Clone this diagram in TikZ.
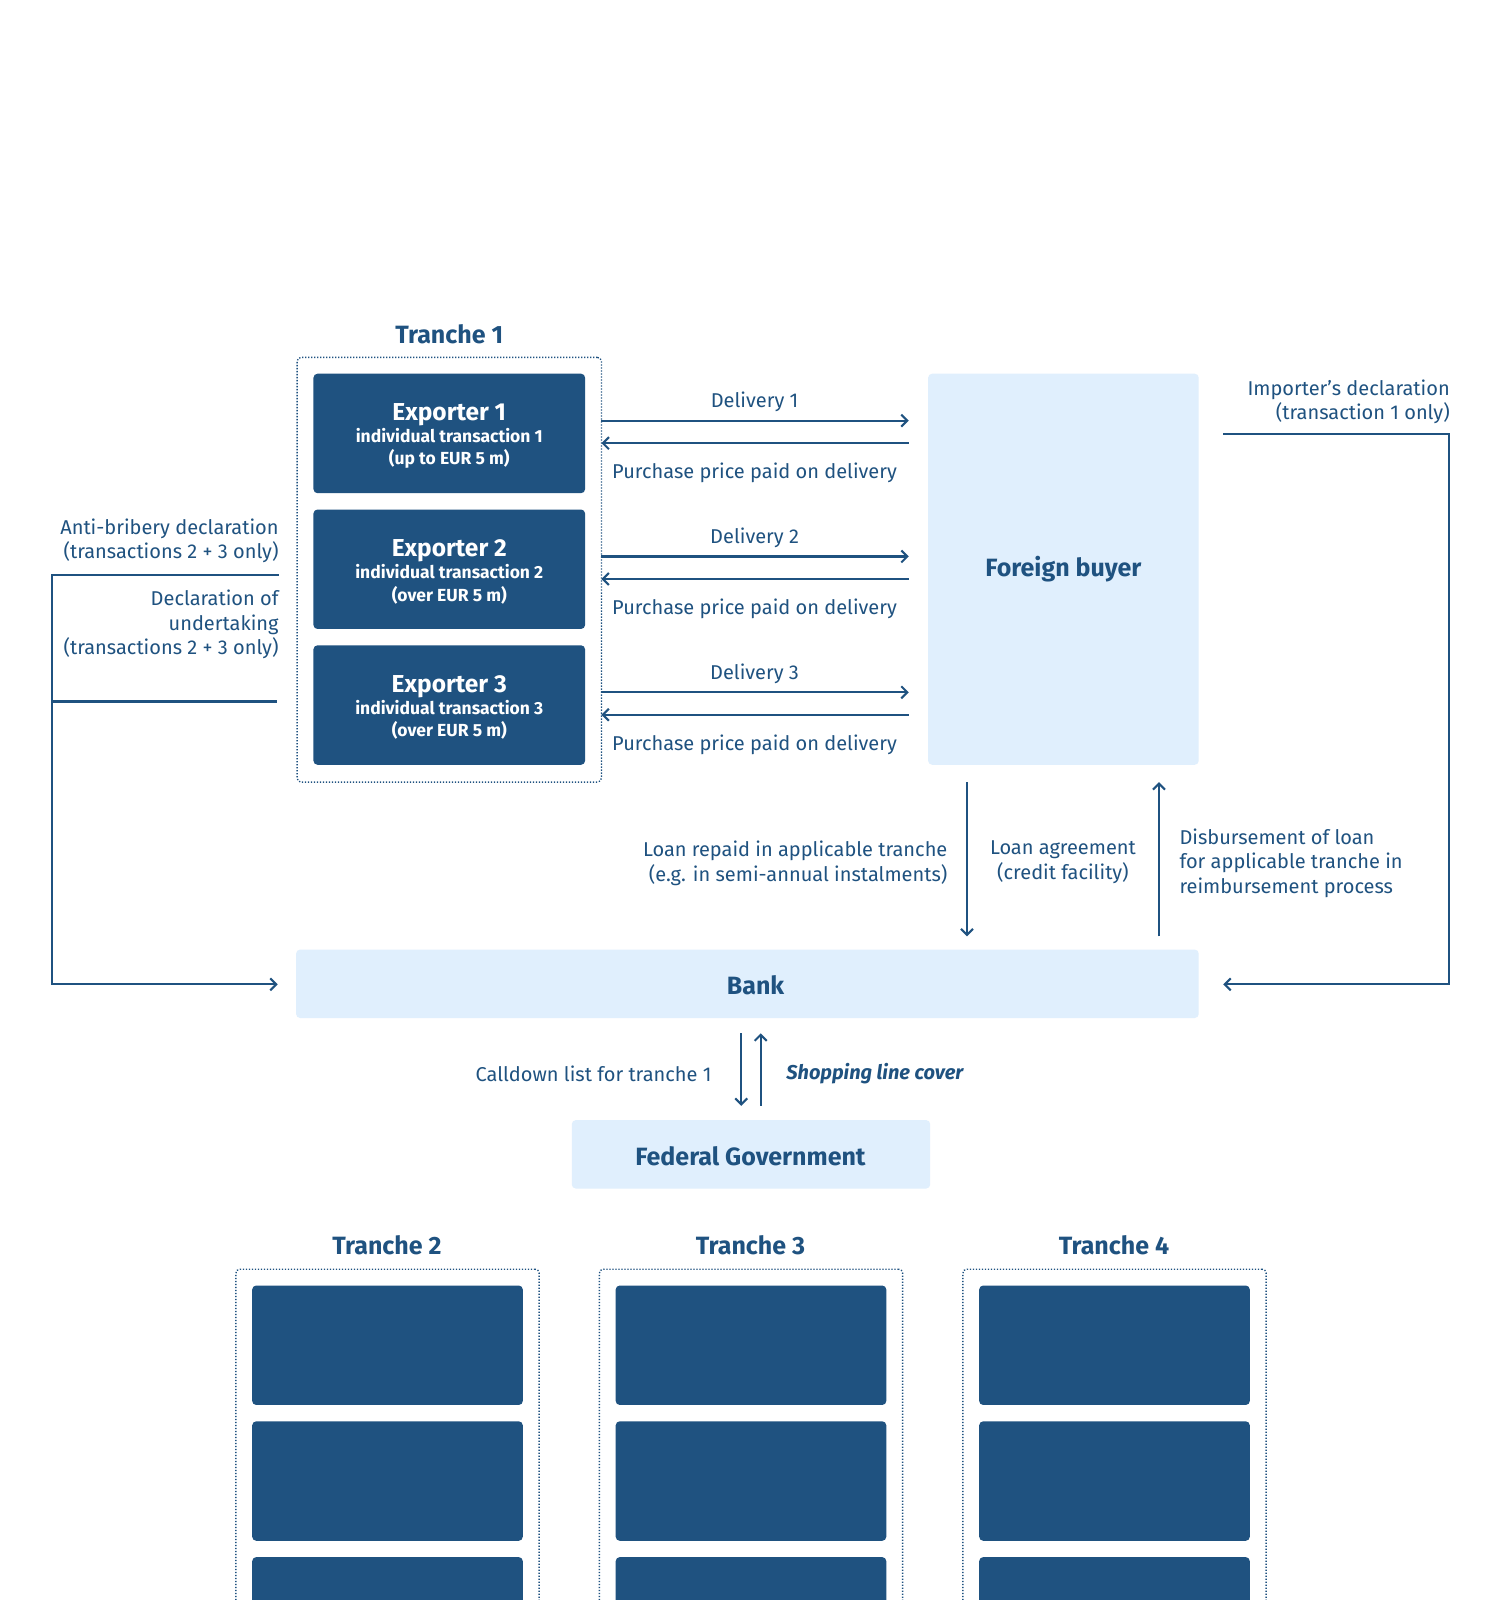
\documentclass[tikz,border=0pt]{standalone}
\usepackage{fontspec}
\setmainfont{Fira Sans}
\usetikzlibrary{arrows.meta,fit,positioning}
\definecolor{dblue}{RGB}{31,82,128}
\definecolor{lblue}{RGB}{224,239,253}
\tikzset{
  darkbox/.style={fill=dblue,draw=none,rounded corners=4pt,inner sep=0pt},
  lightbox/.style={fill=lblue,draw=none,rounded corners=4pt,inner sep=0pt},
  boxtext/.style={text=dblue,font=\fontsize{25}{30}\selectfont\bfseries,inner sep=0pt},
  exptxt/.style={text=white,align=center,inner sep=0pt,font=\fontsize{17.5}{22.3}\selectfont\bfseries},
  dotbox/.style={draw=dblue,line width=1.3pt,dash pattern=on 1.3pt off 1.7pt,rounded corners=4pt,inner sep=0pt},
  lbl/.style={text=dblue,inner sep=0pt,font=\fontsize{20}{24.5}\selectfont,yshift=-1.5pt},
  ttl/.style={text=dblue,inner sep=0pt,font=\fontsize{25}{30}\selectfont\bfseries},
  conn/.style={draw=dblue,line width=2.1pt},
  arr/.style={conn,-{Straight Barb[length=6pt,width=12pt,line width=2.1pt]}},
}
\newcommand{\expbig}{\fontsize{24.5}{22.3}\selectfont}
\newcommand{\expsmall}{\fontsize{17.5}{22.3}\selectfont}
\begin{document}
\begin{tikzpicture}[x=1.021pt,y=-1.021pt]
\clip (0,0) rectangle (1461.3,1567);
\fill[white] (0,0) rectangle (1461.3,1567);

% Tranche 1
\node[ttl] (t1) at (440,327) {Tranche 1};
\node[dotbox,fit={(291,350) (589,766)}] (t1box) {};
\node[darkbox,fit={(307,366) (573,483)}] (e1) {};
\node[exptxt] (e1t) at ([yshift=-2.5pt]e1.center) {\expbig Exporter 1\\\expsmall individual transaction 1\\\expsmall (up to EUR 5 m)};
\node[darkbox,fit={(307,499) (573,616)}] (e2) {};
\node[exptxt] (e2t) at ([yshift=-2.5pt]e2.center) {\expbig Exporter 2\\\expsmall individual transaction 2\\\expsmall (over EUR 5 m)};
\node[darkbox,fit={(307,632) (573,749)}] (e3) {};
\node[exptxt] (e3t) at ([yshift=-2.5pt]e3.center) {\expbig Exporter 3\\\expsmall individual transaction 3\\\expsmall (over EUR 5 m)};

% Foreign buyer
\node[lightbox,fit={(909,366) (1174,749)}] (fb) {};
\node[boxtext] (fbt) at (fb.center) {Foreign buyer};

% Delivery arrows
\foreach \i/\dy in {1/0,2/133,3/266}{
  \coordinate (da\i) at (589,412+\dy);
  \coordinate (db\i) at (890,412+\dy);
  \coordinate (pa\i) at (890,434+\dy);
  \coordinate (pb\i) at (589,434+\dy);
  \draw[arr] (da\i) -- (db\i);
  \draw[arr] (pa\i) -- (pb\i);
  \node[lbl] (dl\i) at (739,392+\dy) {Delivery \i};
  \node[lbl] (pl\i) at (739,462+\dy) {Purchase price paid on delivery};
}

% Bank
\node[lightbox,fit={(290,930) (1174,997)}] (bank) {};
\node[boxtext] (bankt) at (740,965) {Bank};

% Right connector (importer's declaration)
\node[lbl,align=right,anchor=east] (imp) at (1420,392) {Importer’s declaration\\(transaction 1 only)};
\coordinate (r1) at (1198,425);
\coordinate (r2) at (1419,425);
\coordinate (r3) at (1419,964);
\coordinate (r4) at (1198,964);
\draw[arr] (r1) -- (r2) -- (r3) -- (r4);

% Left connector
\node[lbl,align=right,anchor=east] (anti) at (273,528) {Anti-bribery declaration\\(transactions 2 + 3 only)};
\node[lbl,align=right,anchor=east] (undert) at (273,610) {Declaration of\\undertaking\\(transactions 2 + 3 only)};
\coordinate (l1) at (273,563);
\coordinate (l2) at (51,563);
\coordinate (l3) at (51,964);
\coordinate (l4) at (272,964);
\coordinate (m1) at (271,687);
\coordinate (m2) at (51,687);
\draw[arr] (l1) -- (l2) -- (l3) -- (l4);
\draw[conn] (m1) -- (m2);

% Loan arrows
\coordinate (la1) at (947,766);
\coordinate (la2) at (947,917);
\coordinate (lb1) at (1135,917);
\coordinate (lb2) at (1135,766);
\draw[arr] (la1) -- (la2);
\draw[arr] (lb1) -- (lb2);
\node[lbl,align=right,anchor=east] (lrep) at (928,844) {Loan repaid in applicable tranche\\(e.g. in semi-annual instalments)};
\node[lbl,align=center] (lagr) at (1041,843) {Loan agreement\\(credit facility)};
\node[lbl,align=left,anchor=west] (ldis) at (1155,844) {Disbursement of loan\\for applicable tranche in\\reimbursement process};

% Federal Government
\node[lightbox,fit={(560,1097) (911,1164)}] (fg) {};
\node[boxtext] (fgt) at (735,1132) {Federal Government};
\coordinate (ca1) at (726,1012);
\coordinate (ca2) at (726,1083);
\coordinate (cb1) at (745,1083);
\coordinate (cb2) at (745,1012);
\draw[arr] (ca1) -- (ca2);
\draw[arr] (cb1) -- (cb2);
\node[lbl,anchor=east] (cl) at (697,1050) {Calldown list for tranche 1};
\node[lbl,anchor=west,font=\fontsize{20}{24.5}\selectfont\bfseries\itshape] (sl) at (770,1050) {Shopping line cover};

% Tranches 2-4
\foreach \k/\dx in {2/0,3/356,4/712}{
  \node[ttl] (t\k) at (379+\dx,1220) {Tranche \k};
  \node[dotbox,fit={(231+\dx,1243) (528+\dx,1620)}] (t\k box) {};
  \node[darkbox,fit={(247+\dx,1259) (512+\dx,1376)}] (b\k a) {};
  \node[darkbox,fit={(247+\dx,1392) (512+\dx,1509)}] (b\k b) {};
  \node[darkbox,fit={(247+\dx,1525) (512+\dx,1640)}] (b\k c) {};
}
\end{tikzpicture}
\end{document}
